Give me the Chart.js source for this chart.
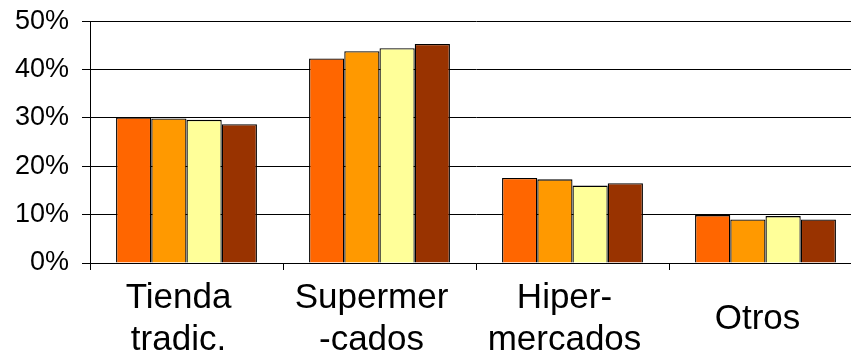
<!DOCTYPE html>
<html>
<head>
<meta charset="utf-8">
<script src="https://cdn.jsdelivr.net/npm/chart.js@4"></script>
<style>
  html, body { margin: 0; padding: 0; background: #fff; overflow: hidden; }
  #wrap { position: relative; top: -8px; width: 862px; height: 371px; }
</style>
</head>
<body>
<div id="wrap"><canvas id="chart"></canvas></div>
<script>
const categories = [['Tienda', 'tradic.'], ['Supermer', '-cados'], ['Hiper-', 'mercados'], ['Otros']];
const serie1 = [30.1, 42.3, 17.6, 9.9];
const serie2 = [29.9, 43.8, 17.3, 9.0];
const serie3 = [29.6, 44.4, 16.0, 9.7];
const serie4 = [28.7, 45.3, 16.5, 9.0];
const colors = ['#FF6600', '#FF9900', '#FFFF99', '#993300'];

const fam = 'Liberation Sans, Arial, sans-serif';

const ctx = document.getElementById('chart').getContext('2d');
new Chart(ctx, {
    type: 'bar',
    data: {
        labels: categories,
        datasets: [serie1, serie2, serie3, serie4].map((d, i) => ({
            data: d,
            backgroundColor: colors[i],
            borderColor: '#000',
            borderWidth: 1.3,
            categoryPercentage: 0.73,
            barPercentage: 1
        }))
    },
    options: {
        responsive: true,
        maintainAspectRatio: false,
        animation: false,
        layout: { padding: { top: 13, right: 0, left: 0, bottom: 0 } },
        plugins: { legend: { display: false }, tooltip: { enabled: false } },
        scales: {
            x: {
                grid: { drawOnChartArea: false, color: '#000', tickLength: 7, offset: true },
                border: { color: '#000', width: 1 },
                ticks: { color: '#000', font: { family: fam, size: 35, lineHeight: 1.2 }, padding: 28, labelOffset: -8, maxRotation: 0, crossAlign: 'center' },
                afterFit: s => { s.height = 100; }
            },
            y: {
                min: 0, max: 50,
                grid: { color: '#000', tickLength: 8 },
                border: { color: '#000', width: 1 },
                ticks: { stepSize: 10, color: '#000', font: { family: fam, size: 27 }, padding: 13, callback: v => v + '%' },
                afterFit: s => { s.width = 90; }
            }
        }
    }
});
</script>
</body>
</html>
